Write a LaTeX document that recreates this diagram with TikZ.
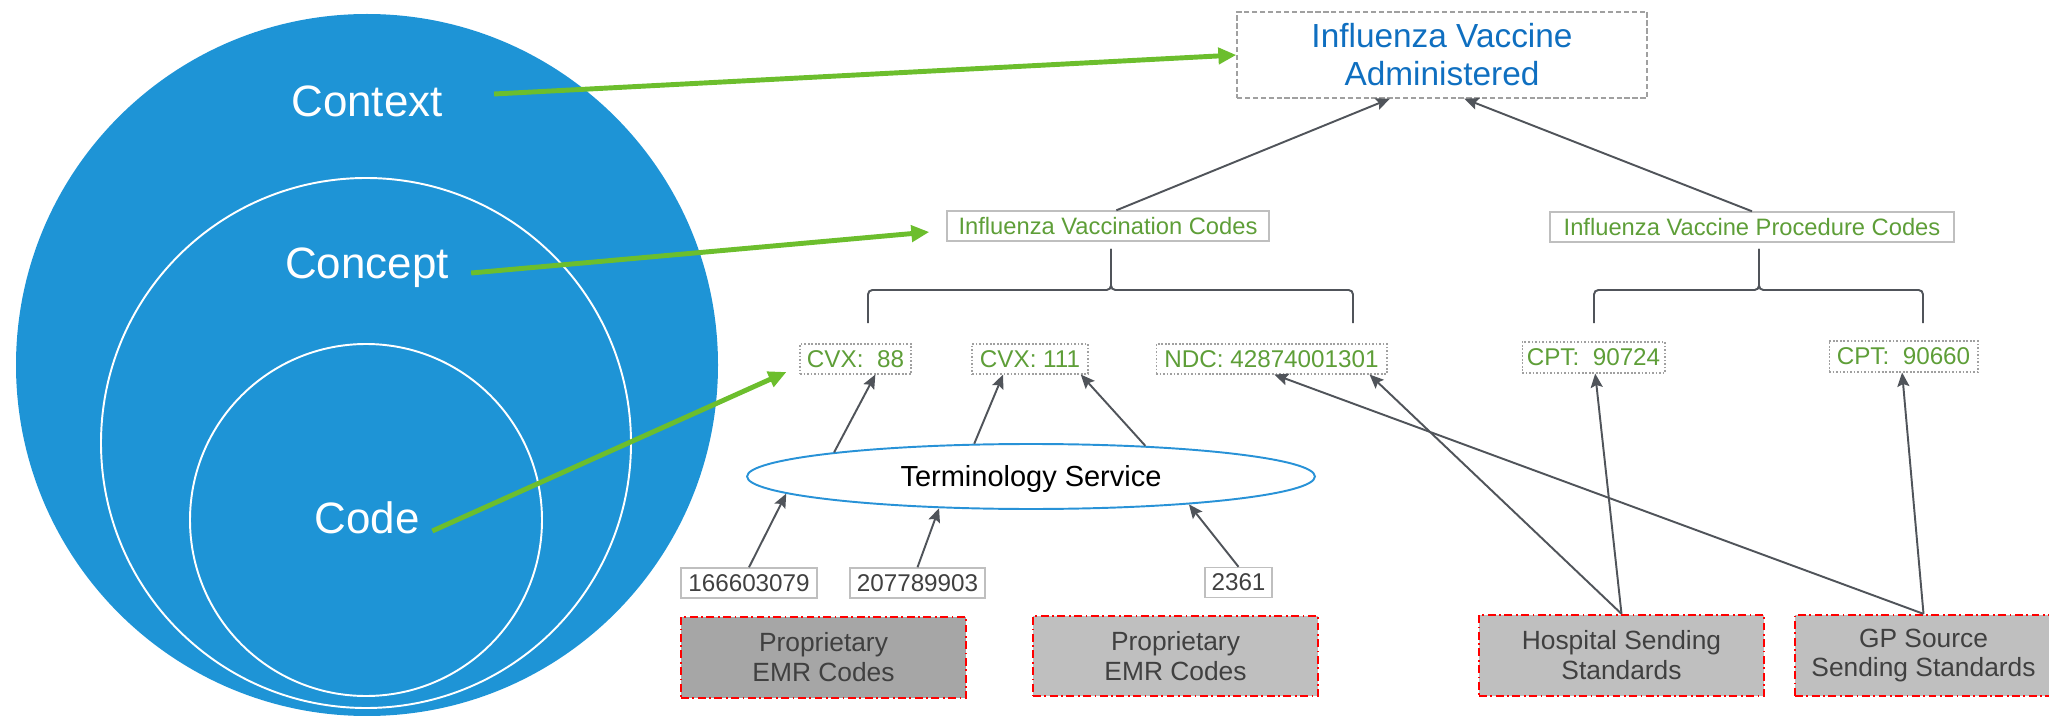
\documentclass[tikz,border=0pt]{standalone}
\usepackage{fontspec}
\setmainfont{Liberation Sans}
\usetikzlibrary{shapes.geometric,arrows.meta}
\definecolor{ringblue}{HTML}{1E94D6}
\definecolor{linkgreen}{HTML}{6CBE2D}
\definecolor{codegreen}{HTML}{5E9E38}
\definecolor{admblue}{HTML}{0F6FC0}
\definecolor{arrgray}{HTML}{50545A}
\definecolor{edgegray}{HTML}{BFBFBF}
\definecolor{dashgray}{HTML}{A0A0A0}
\definecolor{tsblue}{HTML}{2892D7}
\definecolor{labgray}{HTML}{404040}
\definecolor{darkfill}{HTML}{A6A6A6}
\definecolor{lightfill}{HTML}{BFBFBF}
\begin{document}
\begin{tikzpicture}[x=0.02cm,y=0.02cm,
  ring/.style={text=white,inner sep=0pt,text height=18pt,text depth=0pt,font=\fontsize{25pt}{30pt}\selectfont},
  admbox/.style={draw=dashgray,line width=0.8pt,dash pattern=on 3pt off 1.5pt,text=admblue,align=center,
    minimum width=8.2cm,minimum height=1.72cm,inner sep=0pt,font=\fontsize{19pt}{21.6pt}\selectfont},
  groupbox/.style={draw=edgegray,line width=0.8pt,text=codegreen,minimum height=0.6cm,inner sep=0pt,
    font=\fontsize{13.5pt}{16pt}\selectfont},
  codebox/.style={draw=dashgray,line width=0.6pt,dash pattern=on 1pt off 1pt,text=codegreen,
    minimum height=0.6cm,inner sep=0pt,font=\fontsize{13.8pt}{16pt}\selectfont},
  srcbox/.style={draw=edgegray,line width=0.8pt,text=labgray,minimum height=0.6cm,inner sep=0pt,
    font=\fontsize{13.8pt}{16pt}\selectfont},
  origin/.style={draw=red,line width=1.3pt,dash pattern=on 4.5pt off 2pt on 1pt off 2pt,text=labgray,
    align=center,minimum width=5.7cm,minimum height=1.62cm,inner sep=0pt,font=\fontsize{15pt}{17pt}\selectfont},
  service/.style={ellipse,draw=tsblue,line width=1.1pt,fill=white,minimum width=11.36cm,minimum height=1.3cm,
    inner sep=0pt,text height=11.8pt,text depth=0pt,font=\fontsize{16.5pt}{20pt}\selectfont},
  arr/.style={draw=arrgray,line width=1.1pt,-{Stealth[length=0.28cm,width=0.24cm,inset=0.05cm]}},
  garr/.style={draw=linkgreen,line width=2.8pt,-{Triangle[length=0.36cm,width=0.32cm]}},
  bracket/.style={draw=arrgray,line width=1.1pt,rounded corners=2.5pt}]
\useasboundingbox (0,0) rectangle (2049,-716);
\fill [ringblue] (367,-365) circle (351);
\draw [white,line width=1.1pt,fill=ringblue] (366,-443) circle (265);
\draw [white,line width=1.1pt] (366,-520) circle (176);
\node [ring] (ctx) at (367,-101) {Context};
\node [ring] (cpt) at (367,-263) {Concept};
\node [ring] (code) at (367,-518) {Code};
\node [admbox] (adm) at (1442,-55) {Influenza Vaccine\\Administered};
\node [groupbox,minimum width=6.44cm] (vacc) at (1108,-226) {Influenza Vaccination Codes};
\node [groupbox,minimum width=8.08cm] (proc) at (1752,-227) {Influenza Vaccine Procedure Codes};
\node [codebox,minimum width=2.22cm] (cvx88) at (855.5,-359) {CVX:\ \ 88};
\node [codebox,minimum width=2.32cm] (cvx111) at (1030,-359) {CVX: 111};
\node [codebox,minimum width=4.62cm] (ndc) at (1271.5,-359) {NDC: 42874001301};
\node [codebox,minimum width=2.86cm,minimum height=0.62cm] (cpta) at (1593.5,-357.5) {CPT:\ \ 90724};
\node [codebox,minimum width=2.98cm,minimum height=0.62cm] (cptb) at (1903.5,-356.5) {CPT:\ \ 90660};
\node [service] (ts) at (1031,-476.5) {Terminology Service};
\node [srcbox,minimum width=2.72cm] (srca) at (749,-583) {166603079};
\node [srcbox,minimum width=2.7cm] (srcb) at (917.5,-583) {207789903};
\node [srcbox,minimum width=1.34cm] (srcc) at (1238.5,-582.5) {2361};
\node [origin,fill=darkfill] (emra) at (823.5,-657.5) {Proprietary\\EMR Codes};
\node [origin,fill=lightfill,minimum height=1.6cm] (emrb) at (1175.5,-656) {Proprietary\\EMR Codes};
\node [origin,fill=lightfill] (hosp) at (1621.5,-655.5) {Hospital Sending\\Standards};
\node [origin,fill=lightfill,minimum width=5.14cm] (gp) at (1923.5,-655.5) {GP Source\\Sending Standards};
\draw [bracket] (868,-323) |- (1111,-290) -- (1111,-249);
\draw [bracket] (1353,-323) |- (1111,-290) -- (1111,-249);
\draw [bracket] (1594,-323) |- (1759,-290) -- (1759,-249);
\draw [bracket] (1923,-323) |- (1759,-290) -- (1759,-249);
\draw [garr] ([xshift=1.02cm,yshift=0.14cm]ctx.east) -- (adm.west);
\draw [garr] ([xshift=0.44cm,yshift=-0.2cm]cpt.east) -- ([xshift=-0.34cm,yshift=-0.12cm]vacc.west);
\draw [garr] ([xshift=0.25cm,yshift=-0.26cm]code.east) -- ([xshift=-0.26cm,yshift=-0.26cm]cvx88.west);
\draw [arr] (vacc.62) -- (adm.-140);
\draw [arr] (proc.north) -- (adm.-63);
\draw [arr] (ts.173.8) -- (cvx88.-38);
\draw [arr] (ts.150.9) -- (cvx111.-150.6);
\draw [arr] (ts.15.6) -- (cvx111.-17.7);
\draw [arr] (srca.north) -- (ts.184.75);
\draw [arr] (srcb.north) -- (ts.199.6);
\draw [arr] (srcc.north) -- (ts.-10.4);
\draw [arr] (hosp.north) -- (ndc.-9.5);
\draw [arr] (hosp.north) -- (cpta.-84.5);
\draw [arr] (gp.north) -- (ndc.-80.5);
\draw [arr] (gp.north) -- (cptb.-95.5);
\end{tikzpicture}
\end{document}
